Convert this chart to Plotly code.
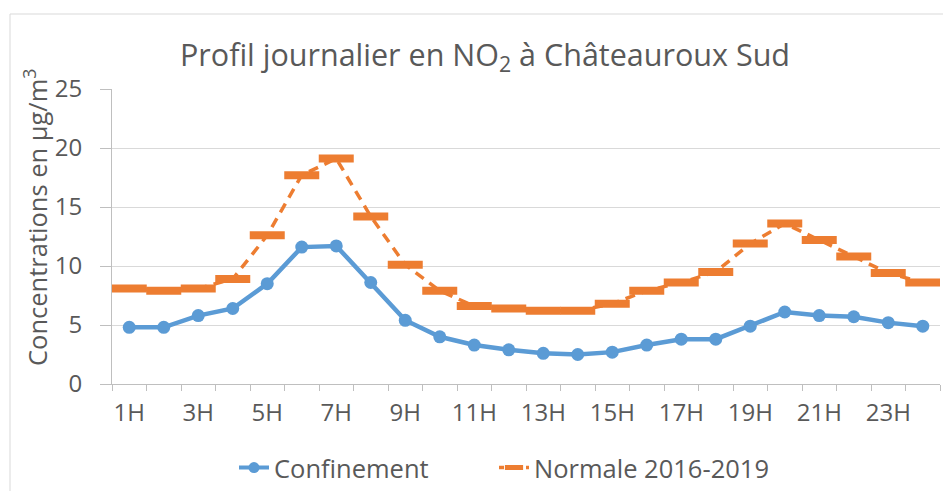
import plotly.graph_objects as go

hours = list(range(1, 25))
hour_labels = [f"{h}H" for h in hours]
confinement = [4.8, 4.8, 5.8, 6.4, 8.5, 11.6, 11.7, 8.6, 5.4, 4.0, 3.3, 2.9,
               2.6, 2.5, 2.7, 3.3, 3.8, 3.8, 4.9, 6.1, 5.8, 5.7, 5.2, 4.9]
normale = [8.1, 7.9, 8.1, 8.9, 12.6, 17.7, 19.1, 14.2, 10.1, 7.9, 6.6, 6.4,
           6.2, 6.2, 6.8, 7.9, 8.6, 9.5, 11.9, 13.6, 12.2, 10.8, 9.4, 8.6]
y_ticks = [0, 5, 10, 15, 20, 25]

FONT = "Open Sans, sans-serif"
GREY = "#595959"
BLUE = "#5B9BD5"
ORANGE = "#ED7D31"

fig = go.Figure()
fig.add_trace(go.Scatter(
    x=hours, y=confinement, name="Confinement", mode="lines+markers",
    line=dict(color=BLUE, width=4.5), legendgroup="c", showlegend=False,
    marker=dict(symbol="circle", size=13, color=BLUE),
))
fig.add_trace(go.Scatter(
    x=hours, y=normale, name="Normale 2016-2019", mode="lines+markers",
    line=dict(color=ORANGE, width=3.5, dash="10px,7px"),
    legendgroup="n", showlegend=False,
    marker=dict(symbol="line-ew", size=25, color=ORANGE,
                line=dict(color=ORANGE, width=8)),
))
# legend entries (smaller symbols, as in the reference legend)
fig.add_trace(go.Scatter(
    x=[None], y=[None], name="Confinement", mode="lines+markers",
    legendgroup="c", legend="legend", line=dict(color=BLUE, width=4),
    marker=dict(symbol="circle", size=11, color=BLUE),
))
fig.add_trace(go.Scatter(
    x=[None], y=[None], name="Normale 2016-2019", mode="lines+markers",
    legendgroup="n", legend="legend2",
    line=dict(color=ORANGE, width=3.5, dash="5px,4px"),
    marker=dict(symbol="line-ew", size=13, color=ORANGE,
                line=dict(color=ORANGE, width=6)),
))

# page body has an 8px margin; figure sized to fit the 951x491 window
OFF = 8
W, H = 951 - OFF, 491 - OFF
PL, PR, PT, PB = 112, 940, 89, 384  # plot box in window pixels
L, T = PL - OFF, PT - OFF
R, B = W - (PR - OFF), H - (PB - OFF)
pw, ph = PR - PL, PB - PT

def px(xw):
    return (xw - PL) / pw

def py(yw):
    return (PB - yw) / ph

# outer chart-area border (light grey)
fig.add_shape(type="line", xref="paper", yref="paper",
              x0=px(10), x1=px(990), y0=py(14), y1=py(14),
              line=dict(color="#D9D9D9", width=1))
fig.add_shape(type="line", xref="paper", yref="paper",
              x0=px(10), x1=px(10), y0=py(14), y1=py(520),
              line=dict(color="#D9D9D9", width=1))

fig.add_annotation(
    text="Concentrations en µg/m<sup>3</sup>", textangle=-90,
    xref="paper", yref="paper", x=px(35), y=py(217),
    xanchor="center", yanchor="middle", showarrow=False,
    font=dict(family=FONT, size=25.5, color=GREY),
)

legend_style = dict(orientation="h", xanchor="left", yanchor="middle",
                    y=py(468), bgcolor="rgba(0,0,0,0)",
                    font=dict(family=FONT, size=25.5, color=GREY))

fig.update_layout(
    width=W, height=H,
    margin=dict(l=L, r=R, t=T, b=B, autoexpand=False),
    paper_bgcolor="white", plot_bgcolor="white",
    font=dict(family=FONT, color=GREY, size=24),
    title=dict(text="Profil journalier en NO<sub>2</sub> à Châteauroux Sud",
               x=(485 - OFF) / W, xanchor="center",
               y=1 - (55 - OFF) / H, yanchor="middle",
               font=dict(family=FONT, size=30.5, color=GREY)),
    showlegend=True,
    legend=dict(x=px(234), **legend_style),
    legend2=dict(x=px(494), **legend_style),
    xaxis=dict(
        range=[0.5, 24.5],
        tickvals=hours[::2], ticktext=hour_labels[::2],
        ticks="", showgrid=False, zeroline=False,
        showline=True, linecolor="#BFBFBF", linewidth=1,
        tickfont=dict(size=24, color=GREY), ticklabelstandoff=7,
        minor=dict(tick0=0.5, dtick=1, ticks="outside", ticklen=6,
                   tickcolor="#BFBFBF", showgrid=False),
    ),
    yaxis=dict(
        range=[0, 25], tickvals=y_ticks,
        ticks="outside", ticklen=11, tickcolor="#BFBFBF",
        showgrid=True, gridcolor="#D9D9D9", gridwidth=1,
        zeroline=False, showline=True, linecolor="#BFBFBF", linewidth=1,
        tickfont=dict(size=24, color=GREY), ticklabelstandoff=13,
    ),
)

fig.write_html("out.html")
